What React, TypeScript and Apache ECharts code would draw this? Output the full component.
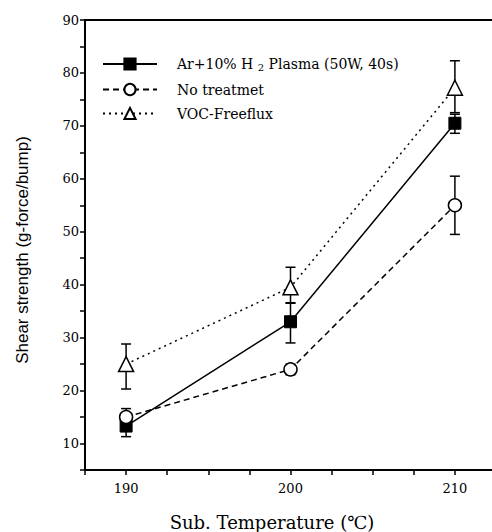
import React, { useEffect, useRef } from "react";
import * as echarts from "echarts";

const temps = [190, 200, 210];
const xTickLabels = [190, 200, 210];
const yTickLabels = [10, 20, 30, 40, 50, 60, 70, 80, 90];

const arName = "Ar+10% H2 Plasma (50W, 40s)";
const noName = "No treatmet";
const vocName = "VOC-Freeflux";

const arH2 = [13.3, 33, 70.5];
const arH2Low = [11.3, 29, 68.6];
const arH2High = [15.5, 36.5, 72.2];

const noTreat = [15, 24, 55];
const noTreatLow = [13.6, 23, 49.5];
const noTreatHigh = [16.6, 25, 60.5];

const voc = [25, 39.5, 77.2];
const vocLow = [20.3, 36.6, 72.5];
const vocHigh = [28.8, 43.3, 82.3];

const SERIF = "DejaVu Serif";

function pts(vals: number[]) {
  return temps.map((t, i) => [t, vals[i]]);
}
function errs(low: number[], high: number[]) {
  return temps.map((t, i) => [t, low[i], high[i]]);
}

function errSeries(name: string, low: number[], high: number[]) {
  return {
    type: "custom",
    name: name + "-err",
    data: errs(low, high),
    z: 1,
    silent: true,
    renderItem: (params: any, api: any) => {
      const x = api.value(0);
      const lo = api.coord([x, api.value(1)]);
      const hi = api.coord([x, api.value(2)]);
      const cw = 5;
      const style = { stroke: "#000", lineWidth: 1.5 };
      return {
        type: "group",
        children: [
          { type: "line", shape: { x1: lo[0], y1: lo[1], x2: hi[0], y2: hi[1] }, style },
          { type: "line", shape: { x1: lo[0] - cw, y1: lo[1], x2: lo[0] + cw, y2: lo[1] }, style },
          { type: "line", shape: { x1: hi[0] - cw, y1: hi[1], x2: hi[0] + cw, y2: hi[1] }, style },
        ],
      };
    },
  };
}

export default function App() {
  const ref = useRef<HTMLDivElement>(null);
  useEffect(() => {
    if (!ref.current) return;
    document.documentElement.style.overflow = "hidden";
    document.body.style.overflow = "hidden";
    const chart = echarts.init(ref.current, null, { renderer: "svg" });
    chart.setOption({
      animation: false,
      backgroundColor: "#fff",
      grid: {
        left: 85,
        top: 20,
        right: 4,
        bottom: 62,
        outerBoundsMode: "none",
        containLabel: false,
      },
      legend: {
        orient: "vertical",
        left: 97,
        top: 52,
        itemWidth: 54,
        itemHeight: 14,
        itemGap: 10,
        data: [arName, noName, vocName],
        formatter: (n: string) =>
          n === arName ? "Ar+10% H {sub|2} Plasma (50W, 40s)" : n,
        textStyle: {
          fontFamily: SERIF,
          fontSize: 14,
          color: "#000",
          padding: [0, 0, 0, 15],
          rich: {
            sub: { fontFamily: SERIF, fontSize: 10, color: "#000", padding: [7, 0, 0, 0] },
          },
        },
      },
      xAxis: [
        {
          type: "value",
          min: 187.5,
          max: 212.5,
          interval: 2.5,
          position: "bottom",
          axisLine: { onZero: false, lineStyle: { color: "#000", width: 2 } },
          axisTick: { inside: false, length: 5, lineStyle: { color: "#000", width: 1.5 } },
          splitLine: { show: false },
          axisLabel: {
            color: "#000",
            fontFamily: SERIF,
            fontSize: 13,
            margin: 12,
            formatter: (v: number) => (xTickLabels.includes(v) ? String(v) : ""),
          },
        },
        {
          type: "value",
          min: 187.5,
          max: 212.5,
          position: "top",
          axisLine: { onZero: false, lineStyle: { color: "#000", width: 2 } },
          axisTick: { show: false },
          axisLabel: { show: false },
          splitLine: { show: false },
        },
      ],
      yAxis: {
        type: "value",
        min: 5,
        max: 90,
        interval: 5,
        axisLine: { onZero: false, lineStyle: { color: "#000", width: 2 } },
        axisTick: { inside: false, length: 5, lineStyle: { color: "#000", width: 1.5 } },
        splitLine: { show: false },
        axisLabel: {
          color: "#000",
          fontFamily: SERIF,
          fontSize: 13,
          margin: 6,
          formatter: (v: number) => (yTickLabels.includes(v) ? String(v) : ""),
        },
      },
      graphic: [
        {
          type: "text",
          x: 272,
          y: 522,
          style: {
            text: "Sub. Temperature (℃)",
            fontFamily: SERIF,
            fontSize: 18,
            fill: "#000",
            textAlign: "center",
            textVerticalAlign: "middle",
          },
        },
        {
          type: "text",
          x: 22,
          y: 250,
          rotation: Math.PI / 2,
          style: {
            text: "Shear strength (g-force/bump)",
            fontFamily: "Liberation Sans",
            fontSize: 17,
            fill: "#000",
            textAlign: "center",
            textVerticalAlign: "middle",
          },
        },
      ],
      series: [
        errSeries(arName, arH2Low, arH2High),
        errSeries(noName, noTreatLow, noTreatHigh),
        errSeries(vocName, vocLow, vocHigh),
        {
          type: "line",
          name: arName,
          data: pts(arH2),
          symbol: "rect",
          symbolSize: 12,
          z: 3,
          lineStyle: { color: "#000", width: 1.5, type: "solid" },
          itemStyle: { color: "#000", borderColor: "#000", borderWidth: 1 },
        },
        {
          type: "line",
          name: noName,
          data: pts(noTreat),
          symbol: "circle",
          symbolSize: 13,
          z: 3,
          lineStyle: { color: "#000", width: 1.5, type: [6, 4] },
          itemStyle: { color: "#fff", borderColor: "#000", borderWidth: 1.5 },
        },
        {
          type: "line",
          name: vocName,
          data: pts(voc),
          symbol: "triangle",
          symbolSize: 15,
          z: 3,
          lineStyle: { color: "#000", width: 1.5, type: [2, 4] },
          itemStyle: { color: "#fff", borderColor: "#000", borderWidth: 1.5 },
        },
      ],
    });
    return () => chart.dispose();
  }, []);
  return <div ref={ref} style={{ width: 500, height: 532, position: "absolute", left: 0, top: 0 }} />;
}
